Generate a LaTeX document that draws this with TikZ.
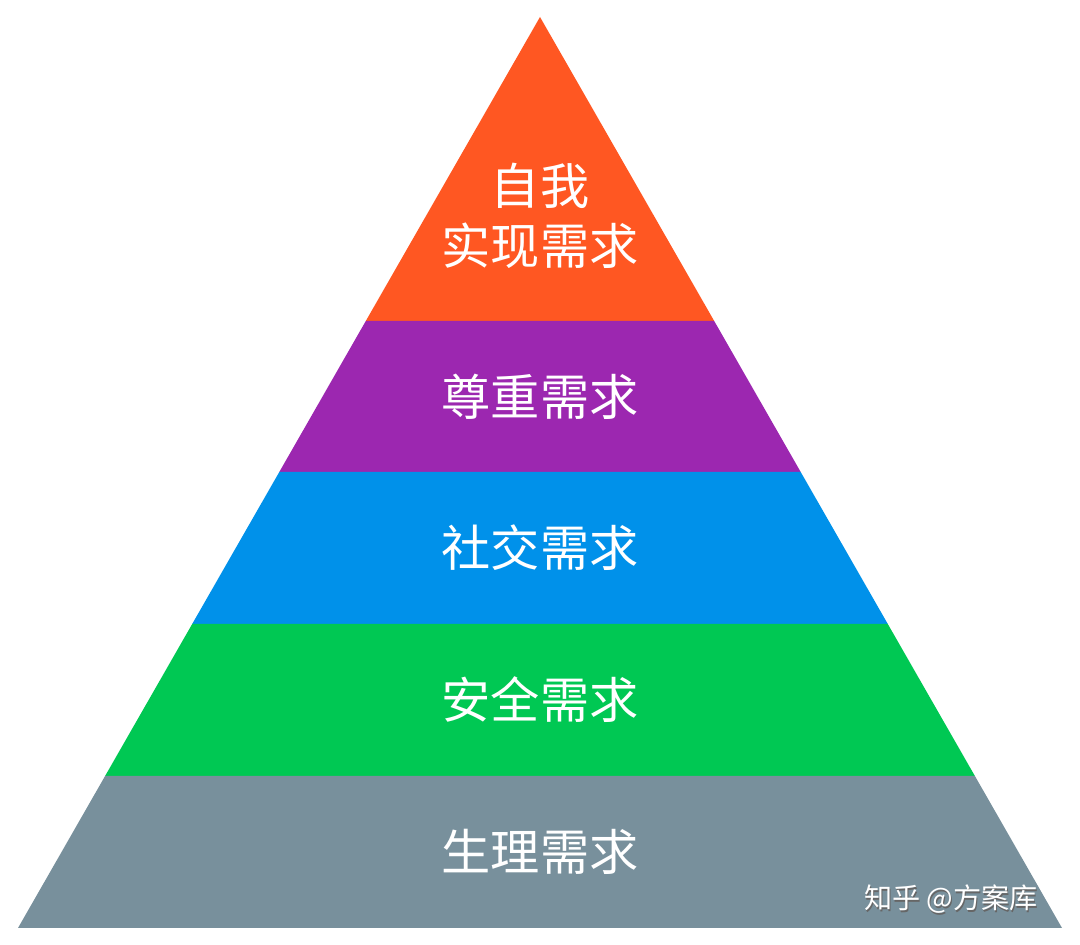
\documentclass[tikz,border=0pt]{standalone}
\usepackage{fontspec}
\newfontfamily\cjk{Noto Sans CJK SC}
\definecolor{cO}{HTML}{FF5722}
\definecolor{cP}{HTML}{9C27B0}
\definecolor{cB}{HTML}{0091EA}
\definecolor{cG}{HTML}{00C853}
\definecolor{cY}{HTML}{78909C}
\begin{document}
\begin{tikzpicture}[x=0.02cm,y=-0.02cm,
  lbl/.style={text=white,font=\cjk\fontsize{28}{36}\selectfont,align=center,inner sep=0pt}]
\useasboundingbox (0,0) rectangle (1080,945);
\fill[white] (0,0) rectangle (1080,945);
% half-width at y: (y-17)*0.573
\fill[cO] (540,17) -- (714.2,321) -- (365.8,321) -- cycle;
\fill[cP] (365.8,321) -- (714.2,321) -- (800.7,472) -- (279.3,472) -- cycle;
\fill[cB] (279.3,472) -- (800.7,472) -- (887.8,624) -- (192.2,624) -- cycle;
\fill[cG] (192.2,624) -- (887.8,624) -- (974.9,776) -- (105.1,776) -- cycle;
\fill[cY] (105.1,776) -- (974.9,776) -- (1062,928) -- (18,928) -- cycle;
\node[lbl] (t1) at (540,216) {自我\\[-2pt]实现需求};
\node[lbl] (t2) at (540,397) {尊重需求};
\node[lbl] (t3) at (540,548) {社交需求};
\node[lbl] (t4) at (540,700) {安全需求};
\node[lbl] (t5) at (540,852) {生理需求};
\node[text=black!60,font=\cjk\fontsize{16}{20}\selectfont,inner sep=0pt] (wm0) at (952,901) {知乎 @方案库};
\node[text=white,font=\cjk\fontsize{16}{20}\selectfont,inner sep=0pt] (wm) at (951,899) {知乎 @方案库};
\end{tikzpicture}
\end{document}
